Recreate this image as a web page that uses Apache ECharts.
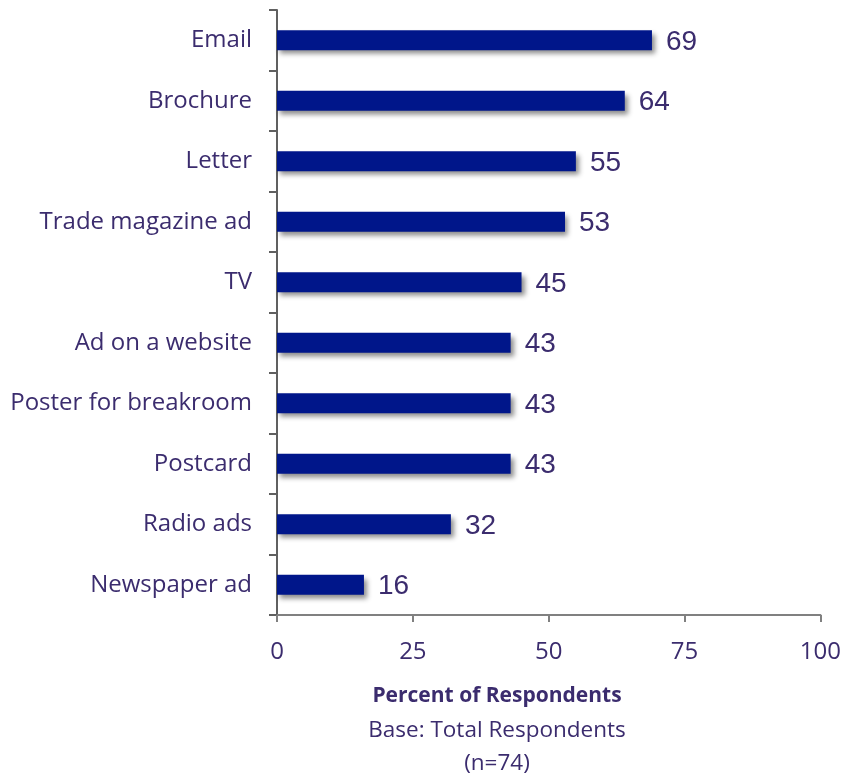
<!DOCTYPE html>
<html>
<head>
<meta charset="utf-8">
<script src="https://cdn.jsdelivr.net/npm/echarts@6/dist/echarts.min.js"></script>
<style>
  html, body { margin: 0; padding: 0; background: #fff; }
  #main { width: 844px; height: 777px; }
</style>
</head>
<body>
<div id="main"></div>
<script>
// categories, bottom to top as the axis draws them
var categories = ['Newspaper ad', 'Radio ads', 'Postcard', 'Poster for breakroom', 'Ad on a website',
  'TV', 'Trade magazine ad', 'Letter', 'Brochure', 'Email'];
var percents = [16, 32, 43, 43, 43, 45, 53, 55, 64, 69];
var xTicks = [0, 25, 50, 75, 100];

var textColor = '#3b2c6e';

var myChart = echarts.init(document.getElementById('main'));
myChart.setOption({
  animation: false,
  grid: { left: 277, right: 22, top: 10, bottom: 162, containLabel: false },
  xAxis: {
    type: 'value',
    min: xTicks[0],
    max: xTicks[xTicks.length - 1],
    interval: 25,
    axisLine: { show: true, lineStyle: { color: '#808080', width: 2 } },
    axisTick: { show: true, length: 7, lineStyle: { color: '#808080', width: 2 } },
    splitLine: { show: false },
    axisLabel: { color: textColor, fontSize: 24, fontFamily: 'Open Sans', margin: 25 }
  },
  yAxis: {
    type: 'category',
    data: categories,
    axisLine: { show: true, lineStyle: { color: '#606060', width: 2 } },
    axisTick: { show: true, length: 8, lineStyle: { color: '#606060', width: 2 } },
    axisLabel: { color: textColor, fontSize: 24, fontFamily: 'Open Sans', margin: 25, padding: [3, 0, 0, 0] }
  },
  series: [{
    type: 'bar',
    data: percents,
    barWidth: 20,
    itemStyle: {
      color: '#00168a',
      shadowColor: 'rgba(0,0,0,0.45)',
      shadowBlur: 5,
      shadowOffsetX: 3,
      shadowOffsetY: 4
    },
    label: {
      show: true,
      position: 'right',
      distance: 14,
      offset: [0, 2],
      color: textColor,
      fontSize: 28,
      fontFamily: 'Liberation Sans'
    }
  }],
  graphic: [
    { type: 'text', x: 497, y: 686,
      style: { text: 'Percent of Respondents', fill: textColor, fontSize: 21, fontWeight: 'bold', fontFamily: 'Open Sans', align: 'center' } },
    { type: 'text', x: 497, y: 719,
      style: { text: 'Base: Total Respondents', fill: textColor, fontSize: 22.5, fontFamily: 'Open Sans', align: 'center' } },
    { type: 'text', x: 497, y: 752,
      style: { text: '(n=74)', fill: textColor, fontSize: 22.5, fontFamily: 'Open Sans', align: 'center' } }
  ]
});
</script>
</body>
</html>
